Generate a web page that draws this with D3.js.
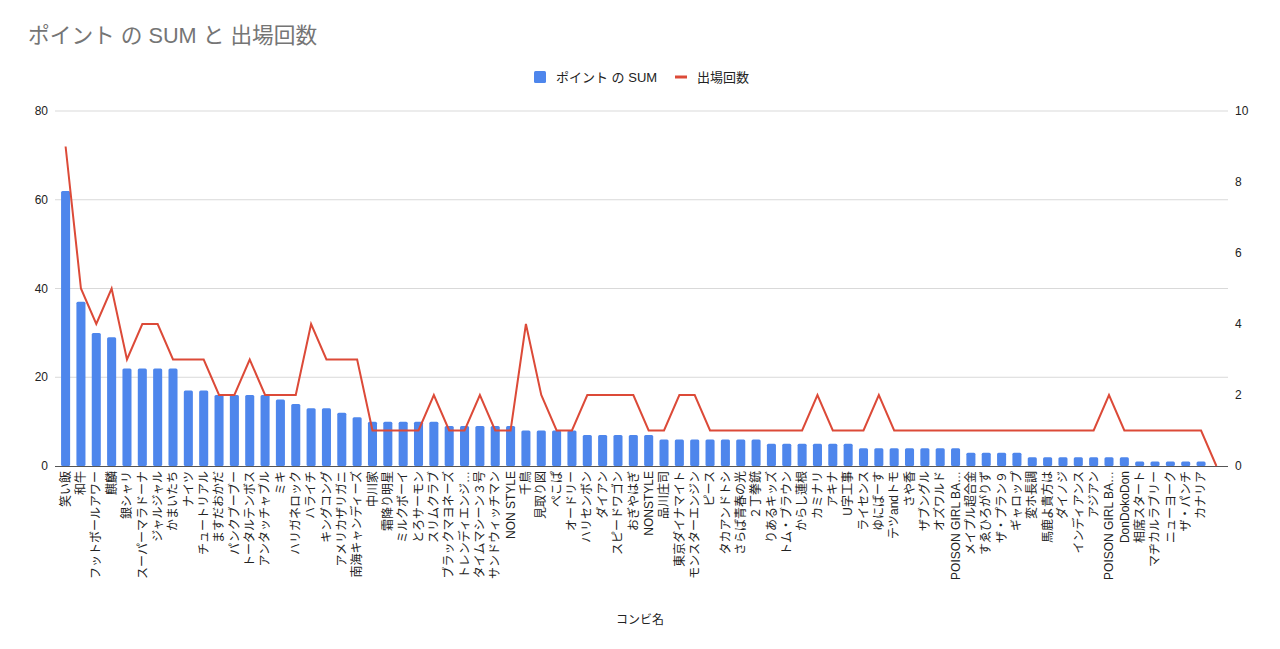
<!DOCTYPE html>
<html><head><meta charset="utf-8">
<script src="https://cdn.jsdelivr.net/npm/d3@7"></script>
<style>
html,body{margin:0;padding:0;background:#fff;}
svg{display:block;font-family:"Liberation Sans",Arial,"Noto Sans CJK JP",sans-serif;}
</style></head><body>
<svg id="c" width="1280" height="649"></svg>
<script>
const categories = ["笑い飯","和牛","フットボールアワー","麒麟","銀シャリ","スーパーマラドーナ","ジャルジャル","かまいたち","ナイツ","チュートリアル","ますだおかだ","パンクブーブー","トータルテンボス","アンタッチャブル","ミキ","ハリガネロック","ハライチ","キングコング","アメリカザリガニ","南海キャンディーズ","中川家","霜降り明星","ミルクボーイ","とろサーモン","スリムクラブ","ブラックマヨネーズ","トレンディエンジ…","タイムマシーン３号","サンドウィッチマン","NON STYLE","千鳥","見取り図","ぺこぱ","オードリー","ハリセンボン","ダイアン","スピードワゴン","おぎやはぎ","NONSTYLE","品川庄司","東京ダイナマイト","モンスターエンジン","ピース","タカアンドトシ","さらば青春の光","２丁拳銃","りあるキッズ","トム・ブラウン","からし蓮根","カミナリ","アキナ","U字工事","ライセンス","ゆにばーす","テツandトモ","さや香","ザブングル","オズワルド","POISON GIRL BA…","メイプル超合金","すゑひろがりず","ザ・プラン９","ギャロップ","変ホ長調","馬鹿よ貴方は","ダイノジ","インディアンス","アジアン","POISON GIRL BA…","DonDokoDon","相席スタート","マヂカルラブリー","ニューヨーク","ザ・パンチ","カナリア",""];
const pointSum = [62,37,30,29,22,22,22,22,17,17,16,16,16,16,15,14,13,13,12,11,10,10,10,10,10,9,9,9,9,9,8,8,8,8,7,7,7,7,7,6,6,6,6,6,6,6,5,5,5,5,5,5,4,4,4,4,4,4,4,3,3,3,3,2,2,2,2,2,2,2,1,1,1,1,1,0];
const appearances = [9,5,4,5,3,4,4,3,3,3,2,2,3,2,2,2,4,3,3,3,1,1,1,1,2,1,1,2,1,1,4,2,1,1,2,2,2,2,1,1,2,2,1,1,1,1,1,1,1,2,1,1,1,2,1,1,1,1,1,1,1,1,1,1,1,1,1,1,2,1,1,1,1,1,1,0];
const leftTicks = [0,20,40,60,80];
const rightTicks = [0,2,4,6,8,10];
const title = "ポイント の SUM と 出場回数";
const seriesNames = ["ポイント の SUM","出場回数"];
const xTitle = "コンビ名";

const BLUE = "#4e86ec", RED = "#dc4a38";
const svg = d3.select("#c");
const L = 58, R = 1224, T = 111, B = 466;

const x = d3.scaleBand().domain(d3.range(categories.length)).range([L, R]).paddingInner(0.41).paddingOuter(0.2);
const yL = d3.scaleLinear().domain([0,80]).range([B, T]);
const yR = d3.scaleLinear().domain([0,10]).range([B, T]);

// title
svg.append("text").attr("x",28).attr("y",43).attr("fill","#757575").attr("font-size",21.7).text(title);

// legend
const lg = svg.append("g").attr("font-size",13).attr("fill","#222");
lg.append("rect").attr("x",534).attr("y",71).attr("width",12).attr("height",12).attr("rx",1.5).attr("fill",BLUE);
lg.append("text").attr("x",556).attr("y",81.5).text(seriesNames[0]);
lg.append("line").attr("x1",675).attr("x2",687).attr("y1",77).attr("y2",77).attr("stroke",RED).attr("stroke-width",3);
lg.append("text").attr("x",697).attr("y",81.5).text(seriesNames[1]);

// gridlines
svg.append("g").selectAll("line").data(leftTicks.filter(d=>d>0)).join("line")
  .attr("x1",55).attr("x2",1228).attr("y1",d=>yL(d)).attr("y2",d=>yL(d))
  .attr("stroke","#d9d9d9").attr("stroke-width",1);

// left axis labels
svg.append("g").selectAll("text").data(leftTicks).join("text")
  .attr("x",48).attr("y",d=>yL(d)).attr("dy","0.35em").attr("text-anchor","end")
  .attr("font-size",12).attr("fill","#222").text(d=>d);
// right axis labels
svg.append("g").selectAll("text").data(rightTicks).join("text")
  .attr("x",1235).attr("y",d=>yR(d)).attr("dy","0.35em").attr("text-anchor","start")
  .attr("font-size",12).attr("fill","#222").text(d=>d);

// bars
svg.append("g").selectAll("rect").data(pointSum).join("rect")
  .attr("x",(d,i)=>x(i)).attr("width",x.bandwidth())
  .attr("y",d=>yL(d)).attr("height",d=>Math.max(0,B-yL(d)))
  .attr("rx",1.5).attr("fill",BLUE);

// baseline
svg.append("line").attr("x1",55).attr("x2",1228).attr("y1",B+0.5).attr("y2",B+0.5).attr("stroke","#555").attr("stroke-width",1);

// line
const line = d3.line().x((d,i)=>x(i)+x.bandwidth()/2).y(d=>yR(d));
svg.append("path").datum(appearances).attr("d",line).attr("fill","none")
  .attr("stroke",RED).attr("stroke-width",2).attr("stroke-linejoin","miter");

// x labels
svg.append("g").selectAll("text").data(categories).join("text")
  .attr("transform",(d,i)=>`translate(${x(i)+x.bandwidth()/2},471) rotate(-90)`)
  .attr("text-anchor","end").attr("dy","0.35em")
  .attr("font-size",12).attr("fill","#222").text(d=>d);

// x title
svg.append("text").attr("x",640).attr("y",624).attr("text-anchor","middle")
  .attr("font-size",12).attr("fill","#222").text(xTitle);
</script>
</body></html>
